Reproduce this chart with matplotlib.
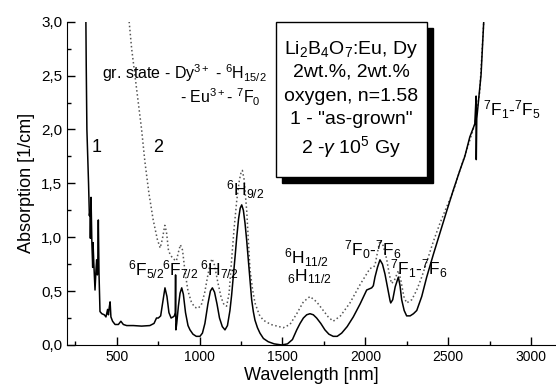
import matplotlib
matplotlib.use('Agg')
import matplotlib.pyplot as plt
from matplotlib.patches import Rectangle
from matplotlib.ticker import MultipleLocator

plt.rcParams['font.family'] = ['Liberation Sans', 'DejaVu Sans']
plt.rcParams['mathtext.fontset'] = 'custom'
plt.rcParams['mathtext.rm'] = 'Liberation Sans'
plt.rcParams['mathtext.it'] = 'Liberation Sans:italic'
plt.rcParams['mathtext.bf'] = 'Liberation Sans:bold'

# curve 1 - "as-grown" (solid)
wl1 = [314, 316, 320, 330, 335, 339, 341, 345, 350, 355, 357, 362, 369, 375, 379, 383, 385, 389, 393, 399,
       410, 425, 435, 445, 450, 455, 460, 465, 475, 490, 510, 525, 540, 560, 600, 650, 700, 725, 740, 751,
       765, 778, 791, 803, 815, 828, 840, 848, 853, 855, 857, 862, 872, 882, 892, 902, 915, 930, 942, 960,
       980, 1002, 1017, 1032, 1050, 1065, 1077, 1090, 1105, 1120, 1137, 1153, 1168, 1183, 1193, 1203, 1214,
       1224, 1235, 1245, 1254, 1264, 1274, 1284, 1294, 1304, 1314, 1324, 1334, 1349, 1364, 1385, 1414, 1450,
       1495, 1530, 1560, 1586, 1606, 1626, 1646, 1666, 1686, 1706, 1731, 1756, 1780, 1806, 1830, 1857, 1890,
       1927, 1968, 2008, 2038, 2048, 2058, 2073, 2088, 2103, 2118, 2135, 2149, 2153, 2165, 2180, 2199, 2209,
       2219, 2234, 2249, 2270, 2290, 2310, 2340, 2370, 2410, 2450, 2490, 2531, 2570, 2600, 2630, 2660, 2668,
       2669, 2672, 2685, 2698, 2714]
abs1 = [3.0, 2.6, 2.0, 1.5, 1.2, 1.25, 0.99, 1.37, 0.95, 0.72, 0.95, 0.75, 0.51, 0.70, 0.79, 0.65, 0.68, 1.16, 0.67, 0.31,
        0.29, 0.28, 0.26, 0.33, 0.28, 0.35, 0.40, 0.26, 0.22, 0.19, 0.19, 0.22, 0.19, 0.18, 0.18, 0.175, 0.18, 0.20, 0.25, 0.25,
        0.27, 0.40, 0.53, 0.45, 0.30, 0.25, 0.26, 0.27, 0.30, 0.65, 0.14, 0.20, 0.36, 0.48, 0.53, 0.47, 0.30, 0.18, 0.14, 0.10,
        0.08, 0.08, 0.11, 0.20, 0.38, 0.50, 0.53, 0.49, 0.38, 0.25, 0.17, 0.14, 0.18, 0.32, 0.46, 0.63, 0.82,
        1.00, 1.17, 1.27, 1.30, 1.25, 1.13, 0.97, 0.79, 0.60, 0.42, 0.31, 0.23, 0.16, 0.11, 0.06, 0.03, 0.01,
        0.0, 0.01, 0.05, 0.14, 0.20, 0.25, 0.28, 0.29, 0.28, 0.25, 0.20, 0.14, 0.10, 0.08, 0.08, 0.11, 0.17,
        0.26, 0.38, 0.51, 0.53, 0.55, 0.63, 0.72, 0.79, 0.75, 0.66, 0.52, 0.41, 0.39, 0.42, 0.54, 0.63, 0.55,
        0.42, 0.32, 0.27, 0.27, 0.29, 0.32, 0.45, 0.63, 0.84, 1.04, 1.24, 1.44, 1.62, 1.75, 1.93, 2.05, 2.31,
        1.72, 2.10, 2.30, 2.51, 3.0]

# curve 2 - gamma 10^5 Gy (dotted)
wl2 = [575, 590, 610, 630, 650, 670, 694, 720, 745, 762, 775, 790, 800, 812, 822, 840, 860, 872, 884, 897,
       912, 930, 950, 970, 990, 1010, 1030, 1050, 1065, 1075, 1090, 1110, 1130, 1148, 1163, 1178, 1193, 1208,
       1224, 1240, 1250, 1258, 1268, 1284, 1294, 1304, 1319, 1334, 1360, 1384, 1430, 1505, 1545, 1586, 1626,
       1666, 1706, 1746, 1776, 1806, 1850, 1907, 1968, 2028, 2048, 2058, 2073, 2088, 2108, 2128, 2145, 2158,
       2175, 2199, 2214, 2232, 2249, 2280, 2310, 2340, 2370, 2410, 2450, 2490, 2531, 2570, 2620, 2660, 2690,
       2714]
abs2 = [3.0, 2.75, 2.5, 2.25, 2.0, 1.7, 1.41, 1.16, 0.98, 0.90, 0.98, 1.11, 1.05, 0.88, 0.84, 0.80, 0.78, 0.86, 0.93, 0.88,
        0.68, 0.50, 0.40, 0.35, 0.34, 0.37, 0.48, 0.65, 0.76, 0.80, 0.74, 0.58, 0.44, 0.37, 0.36, 0.48, 0.79, 1.08,
        1.34, 1.53, 1.60, 1.62, 1.54, 1.25, 0.97, 0.70, 0.52, 0.39, 0.28, 0.23, 0.19, 0.16, 0.19, 0.29, 0.40,
        0.45, 0.40, 0.32, 0.26, 0.22, 0.27, 0.39, 0.56, 0.71, 0.72, 0.74, 0.86, 0.97, 0.92, 0.80, 0.65, 0.57,
        0.60, 0.69, 0.60, 0.45, 0.39, 0.42, 0.51, 0.63, 0.77, 0.96, 1.13, 1.28, 1.43, 1.62, 1.85, 2.05, 2.35,
        3.0]

xticks = [500, 1000, 1500, 2000, 2500, 3000]
yticks = [0.0, 0.5, 1.0, 1.5, 2.0, 2.5, 3.0]
ytick_labels = ['0,0', '0,5', '1,0', '1,5', '2,0', '2,5', '3,0']

box_lines = [r'Li$_2$B$_4$O$_7$:Eu, Dy', '2wt.%, 2wt.%', 'oxygen, n=1.58',
             '1 - "as-grown"', r'2 -$\gamma$ 10$^5$ Gy']

fig = plt.figure(figsize=(5.56, 3.92), dpi=100)
ax = fig.add_axes([0.1205, 0.12, 0.8795, 0.8246])

ax.plot(wl2, abs2, color='#555555', linestyle=':', linewidth=1.1)
ax.plot(wl1, abs1, color='black', linewidth=1.1)

ax.set_xlim(200, 3150)
ax.set_ylim(0, 3.0)
ax.set_xticks(xticks)
ax.set_yticks(yticks)
ax.set_yticklabels(ytick_labels)
ax.xaxis.set_minor_locator(MultipleLocator(250))
ax.yaxis.set_minor_locator(MultipleLocator(0.25))
ax.tick_params(which='major', direction='in', length=6, width=1)
ax.tick_params(which='minor', direction='in', length=3, width=1)
ax.tick_params(axis='x', labelsize=10)
ax.tick_params(axis='y', labelsize=11)
ax.spines['top'].set_visible(False)
ax.spines['right'].set_visible(False)
ax.set_xlabel('Wavelength [nm]', fontsize=13, labelpad=2)
ax.set_ylabel('Absorption [1/cm]', fontsize=13, labelpad=4)

# legend box with shadow
ax.add_patch(Rectangle((0.4397, 0.501), 0.3086, 0.479, transform=ax.transAxes,
                       facecolor='black', edgecolor='black', zorder=4, clip_on=False))
ax.add_patch(Rectangle((0.4274, 0.5196), 0.3086, 0.479, transform=ax.transAxes,
                       facecolor='white', edgecolor='black', linewidth=1, zorder=5, clip_on=False))
ys = [0.913, 0.845, 0.768, 0.697, 0.613]
for txt, yy in zip(box_lines, ys):
    ax.text(0.5817, yy, txt, transform=ax.transAxes, ha='center', va='center', fontsize=14, zorder=6)

fs = 12.5
ax.text(381, 1.83, '1', fontsize=13, ha='center', va='center')
ax.text(749, 1.83, '2', fontsize=13, ha='center', va='center')
ax.text(411, 2.52, r'gr. state - Dy$^{3+}$ - $^6$H$_{15/2}$', fontsize=11.5, ha='left', va='center')
ax.text(882, 2.30, r'- Eu$^{3+}$- $^7$F$_0$', fontsize=11.5, ha='left', va='center')
ax.text(565, 0.70, r'$^6$F$_{5/2}$', fontsize=fs, ha='left', va='center')
ax.text(776, 0.70, r'$^6$F$_{7/2}$', fontsize=fs, ha='left', va='center')
ax.text(1000, 0.70, r'$^6$H$_{7/2}$', fontsize=fs, ha='left', va='center')
ax.text(1160, 1.44, r'$^6$H$_{9/2}$', fontsize=fs, ha='left', va='center')
ax.text(1510, 0.81, r'$^6$H$_{11/2}$', fontsize=fs, ha='left', va='center')
ax.text(1528, 0.63, r'$_6$H$_{11/2}$', fontsize=fs, ha='left', va='center')
ax.text(1870, 0.88, r'$^7$F$_0$-$^7$F$_6$', fontsize=fs, ha='left', va='center')
ax.text(2150, 0.71, r'$^7$F$_1$-$^7$F$_6$', fontsize=fs, ha='left', va='center')
ax.text(2710, 2.18, r'$^7$F$_1$-$^7$F$_5$', fontsize=fs, ha='left', va='center')

fig.savefig('out.png', dpi=100)
